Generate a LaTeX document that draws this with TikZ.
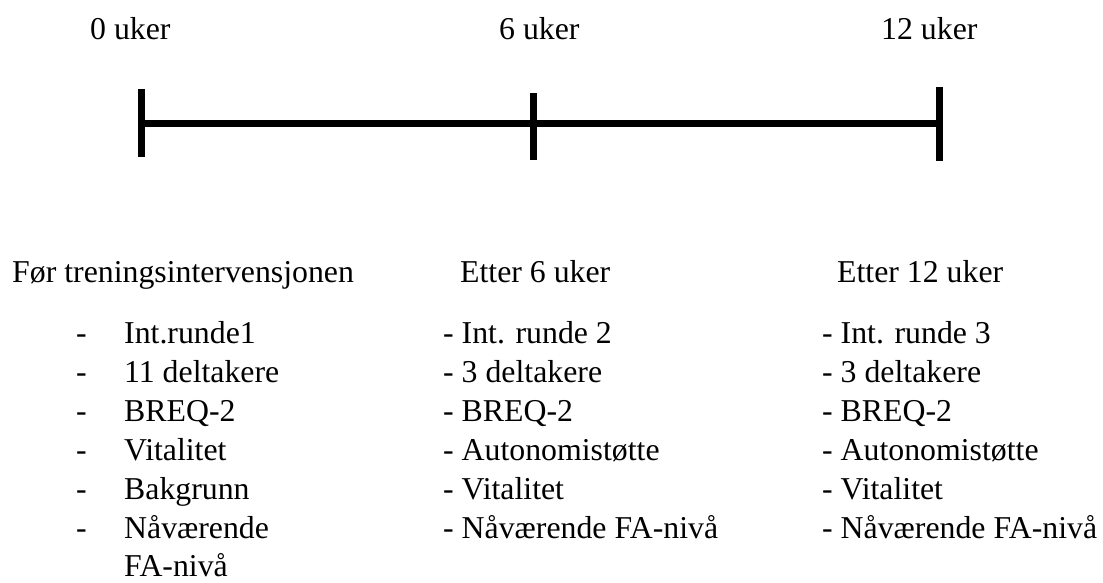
\documentclass[tikz,border=0pt]{standalone}
\usepackage{fontspec}
\setmainfont{Liberation Serif}
\usetikzlibrary{positioning}

\begin{document}
\begin{tikzpicture}[x=1pt,y=-1pt,
every node/.style={inner sep=0pt,anchor=base west,font=\fontsize{31.8}{38}\selectfont}]
\useasboundingbox (0,0) rectangle (1103,583);
% tidslinje
\coordinate (T0) at (141,124);
\coordinate (T6) at (533,124);
\coordinate (T12) at (939,124);
\draw[line width=7pt] (T0)--(T6)--(T12);
\draw[line width=7pt] ([yshift=35pt]T0)--([yshift=-33pt]T0);
\draw[line width=7pt] ([yshift=31pt]T6)--([yshift=-36pt]T6);
\draw[line width=7pt] ([yshift=37pt]T12)--([yshift=-37pt]T12);
\node (L0) at (90,40) {0 uker};
\node (L6) at (499,40) {6 uker};
\node (L12) at (881,40) {12 uker};
% kolonne 1
\node (H1) at (12,282) {Før treningsintervensjonen};
\node (D1) at (76,343) {-};
\node (A1) at (124,343) {Int.runde1};
\node (D2) at (76,382) {-};
\node (A2) at (124,382) {11 deltakere};
\node (D3) at (76,421) {-};
\node (A3) at (124,421) {BREQ-2};
\node (D4) at (76,460) {-};
\node (A4) at (124,460) {Vitalitet};
\node (D5) at (76,499) {-};
\node (A5) at (124,499) {Bakgrunn};
\node (D6) at (76,538) {-};
\node (A6) at (124,538) {Nåværende};
\node (A7) at (124,576) {FA-nivå};
% kolonne 2
\node (H2) at (460,282) {Etter 6 uker};
\node (B1) at (443,343) {- Int. runde 2};
\node (B2) at (443,382) {- 3 deltakere};
\node (B3) at (443,421) {- BREQ-2};
\node (B4) at (443,460) {- Autonomistøtte};
\node (B5) at (443,499) {- Vitalitet};
\node (B6) at (443,538) {- Nåværende FA-nivå};
% kolonne 3
\node (H3) at (837,282) {Etter 12 uker};
\node (C1) at (822,343) {- Int. runde 3};
\node (C2) at (822,382) {- 3 deltakere};
\node (C3) at (822,421) {- BREQ-2};
\node (C4) at (822,460) {- Autonomistøtte};
\node (C5) at (822,499) {- Vitalitet};
\node (C6) at (822,538) {- Nåværende FA-nivå};
\end{tikzpicture}
\end{document}
